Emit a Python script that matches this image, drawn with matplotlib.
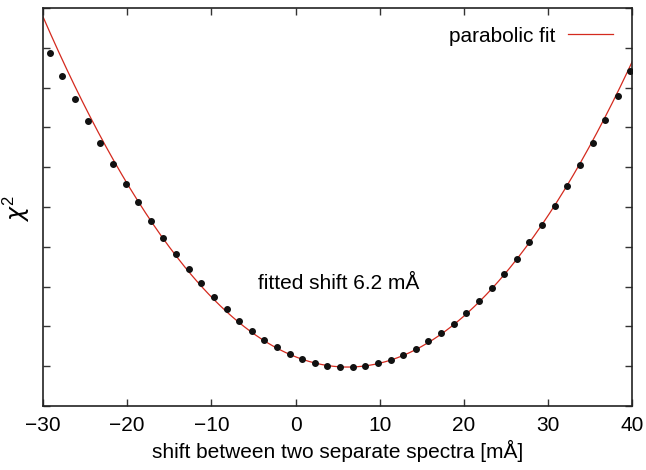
import numpy as np
import matplotlib.pyplot as plt

plt.rcParams['font.family'] = ['Liberation Sans', 'DejaVu Sans']
plt.rcParams['mathtext.fontset'] = 'custom'
plt.rcParams['mathtext.rm'] = 'Liberation Sans'
plt.rcParams['mathtext.it'] = 'DejaVu Sans:italic'

# measured chi^2 values for each trial shift (arbitrary units)
shift = [-29.2, -27.7, -26.2, -24.7, -23.2, -21.7, -20.2, -18.7, -17.2, -15.7,
         -14.2, -12.7, -11.2, -9.7, -8.2, -6.7, -5.2, -3.7, -2.2, -0.7,
         0.8, 2.3, 3.8, 5.3, 6.8, 8.3, 9.8, 11.3, 12.8, 14.3,
         15.8, 17.3, 18.8, 20.3, 21.8, 23.3, 24.8, 26.3, 27.8, 29.3,
         30.8, 32.3, 33.8, 35.3, 36.8, 38.3, 39.8]
chi2 = [8.88, 8.30, 7.71, 7.16, 6.62, 6.09, 5.59, 5.12, 4.66, 4.23,
        3.82, 3.44, 3.08, 2.74, 2.43, 2.14, 1.89, 1.67, 1.48, 1.32,
        1.19, 1.09, 1.01, 0.99, 0.99, 1.01, 1.07, 1.16, 1.28, 1.44,
        1.63, 1.83, 2.07, 2.34, 2.64, 2.96, 3.32, 3.70, 4.12, 4.56,
        5.03, 5.53, 6.05, 6.61, 7.18, 7.78, 8.41]

# parabolic fit parameters
fit_shift = 6.2
fit_curv = 0.006714
fit_min = 0.98

fig = plt.figure(figsize=(6.46, 4.70), dpi=100)
ax = fig.add_axes([0.0666, 0.136, 0.912, 0.847])

# fit curve over the full range
xf = np.linspace(-30, 40, 300)
yf = fit_curv * (xf - fit_shift) ** 2 + fit_min
ax.plot(xf, yf, color='#d42a1e', linewidth=0.9, label='parabolic fit', zorder=2)

# data points
ax.plot(shift, chi2, 'o', color='#111111', markersize=4, zorder=3)

ax.set_xlim(-30, 40)
ax.set_ylim(0, 10)
ax.set_xticks(range(-30, 41, 10))
ax.set_yticks(range(0, 11))
ax.set_yticklabels([])
ax.tick_params(direction='in', top=True, right=True, length=5, width=1,
               labelsize=15, color='#333333', pad=7)

for s in ax.spines.values():
    s.set_linewidth(1.2)
    s.set_color('#222222')

ax.set_xlabel('shift between two separate spectra [mÅ]', fontsize=15, labelpad=4)
ax.set_ylabel(r'$\chi^2$', fontsize=17)
ax.yaxis.set_label_coords(-0.018, 0.495)

ax.text(5.1, 3.09, 'fitted shift 6.2 mÅ', fontsize=15, ha='center', va='center')

ax.legend(loc='upper right', frameon=False, fontsize=15, markerfirst=False,
          handlelength=2.2, handletextpad=0.6, borderaxespad=0.5)

fig.savefig('out.png', dpi=100)
